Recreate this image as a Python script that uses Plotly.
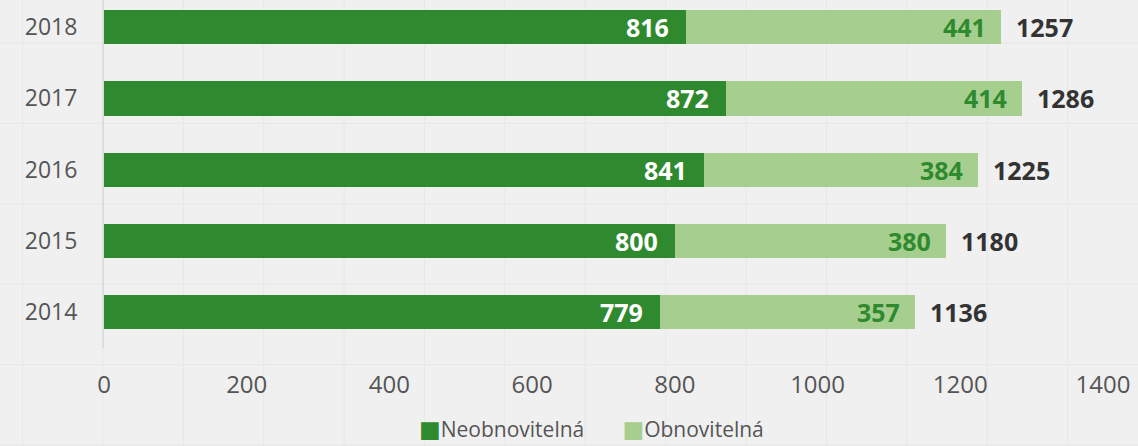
import plotly.graph_objects as go

years = ["2014", "2015", "2016", "2017", "2018"]
neobnovitelna = [779, 800, 841, 872, 816]
obnovitelna = [357, 380, 384, 414, 441]
totals = [a + b for a, b in zip(neobnovitelna, obnovitelna)]
x_ticks = [0, 200, 400, 600, 800, 1000, 1200, 1400]
series_names = ["Neobnovitelná", "Obnovitelná"]

DARK = "#2f8a2f"
LIGHT = "#a6cf8f"
FONT = "Open Sans"
W, H = 1138, 446
ML, MR, MT, MB = 104, 35, 0, 98

pos = list(range(len(years)))

fig = go.Figure()
fig.add_trace(go.Bar(y=pos, x=neobnovitelna, orientation="h", name=series_names[0],
                     marker=dict(color=DARK, line=dict(width=0)), width=0.48))
fig.add_trace(go.Bar(y=pos, x=obnovitelna, orientation="h", name=series_names[1],
                     marker=dict(color=LIGHT, line=dict(width=0)), width=0.48))

for y, a, b, t in zip(pos, neobnovitelna, obnovitelna, totals):
    fig.add_annotation(x=a, y=y, text=f"<b>{a}</b>", showarrow=False, xanchor="right",
                       xshift=-15, font=dict(family=FONT, size=25, color="white"))
    fig.add_annotation(x=t, y=y, text=f"<b>{b}</b>", showarrow=False, xanchor="right",
                       xshift=-13, font=dict(family=FONT, size=25, color="#2f8a2f"))
    fig.add_annotation(x=t, y=y, text=f"<b>{t}</b>", showarrow=False, xanchor="left",
                       xshift=13, font=dict(family=FONT, size=25, color="#333333"))

# legend drawn as text (square glyph directly beside the label, as in the reference)
pw, ph = W - ML - MR, H - MT - MB
sq = "font-family:DejaVu Sans;font-size:23px"
legend_text = (f"<span style='color:{DARK};{sq}'>■</span>{series_names[0]}"
               f"       <span style='color:{LIGHT};{sq}'>■</span>{series_names[1]}")
fig.add_annotation(xref="paper", yref="paper", x=(591 - ML) / pw, y=(ph - 429) / ph,
                   text=legend_text, showarrow=False, xanchor="center", yanchor="middle",
                   font=dict(family=FONT, size=21, color="#555555"))

# faint decorative background grid
shapes = []
px = 22.5
while px < W:
    xp = (px - ML) / pw
    shapes.append(dict(type="line", xref="paper", yref="paper", x0=xp, x1=xp,
                       y0=-MB / ph, y1=1 + MT / ph,
                       line=dict(color="#e7e7e7", width=1), layer="below"))
    px += 80.4
py = 43
while py < H:
    yp = (ph - py) / ph
    shapes.append(dict(type="line", xref="paper", yref="paper", x0=-ML / pw, x1=1 + MR / pw,
                       y0=yp, y1=yp, line=dict(color="#e7e7e7", width=1), layer="below"))
    py += 80.4

fig.update_layout(
    barmode="stack",
    width=W, height=H,
    margin=dict(l=ML, r=MR, t=MT, b=MB, autoexpand=False),
    paper_bgcolor="#f0f0f0", plot_bgcolor="rgba(0,0,0,0)",
    font=dict(family=FONT, color="#555555"),
    showlegend=False,
    shapes=shapes,
    xaxis=dict(range=[0, 1400], tickvals=x_ticks, showgrid=False, zeroline=False,
               showline=False, tickfont=dict(size=24, color="#555555"),
               ticklabelstandoff=20, automargin=False, fixedrange=True),
    yaxis=dict(range=[-0.5, 4.38], tickvals=pos, ticktext=years,
               showgrid=False, zeroline=False,
               showline=True, linecolor="#dcdcdc", linewidth=2,
               tickfont=dict(size=23, color="#555555"), ticklabelstandoff=20,
               automargin=False),
)

fig.write_html("out.html", config={"displayModeBar": False},
               post_script="document.body.style.margin='0';document.body.style.background='#f0f0f0';")
